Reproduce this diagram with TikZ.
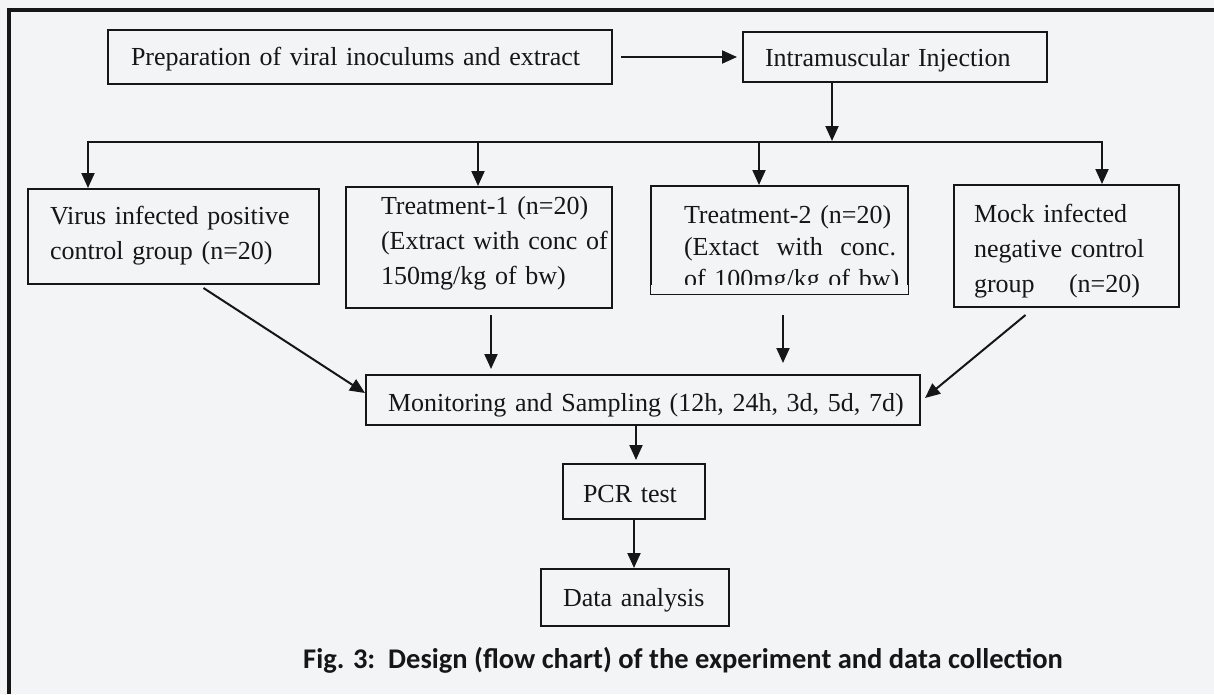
\documentclass[tikz,border=0pt]{standalone}
\usepackage{fontspec}
\setmainfont{Liberation Serif}
\newfontfamily\capfont{Carlito}
\usetikzlibrary{arrows.meta,calc}
\definecolor{ink}{HTML}{161616}
\definecolor{paper}{HTML}{F3F4F6}
% left indent of a line inside a box
\newcommand\ind[1]{\hspace*{#1pt}}
% a line spread out to a fixed width
\newcommand\spread[2]{\hbox to #1pt{#2}}
\begin{document}
\begin{tikzpicture}[x=1pt,y=-1pt,
  box/.style={draw=ink, line width=2pt, fill=paper, inner sep=0pt,
    anchor=north west, align=left, text=ink,
    font=\fontsize{26}{35}\selectfont},
  arr/.style={draw=ink, line width=2pt, -{Triangle[length=15pt,width=13pt]}},
  caption/.style={font=\capfont\bfseries\fontsize{28.5}{32}\selectfont, text=ink, anchor=base}
]
\fill[paper] (0,0) rectangle (1214,694);
\useasboundingbox (0,0) rectangle (1214,694);

% outer frame
\draw[ink, line width=3.5pt] (9,694) -- (9,10) -- (1214,10);

% boxes
\node[box, text width=504pt, text height=35pt, text depth=19pt] (prep) at (107,29)
  {\ind{23}Preparation of viral inoculums and extract};
\node[box, text width=304pt, text height=34pt, text depth=16pt] (intra) at (742,31)
  {\ind{22}Intramuscular Injection};

\node[box, text width=291pt, text height=35pt, text depth=60pt] (virus) at (27,188)
  {\ind{22}Virus infected positive\\\ind{22}control group (n=20)};
\node[box, text width=266pt, text height=27pt, text depth=94pt] (t1) at (345,186)
  {\ind{35}Treatment-1 (n=20)\\\ind{35}(Extract with conc of\\\ind{35}150mg/kg of bw)};
\node[box, text width=257pt, text height=37pt, text depth=71pt,
      font=\fontsize{26}{32}\selectfont] (t2) at (650,185)
  {\ind{33}Treatment-2 (n=20)\\\ind{33}\spread{212}{(Extact\hfill with\hfill conc.}\\\ind{33}of 100mg/kg of bw)};
\node[box, text width=225pt, text height=37pt, text depth=85pt] (mock) at (953,184)
  {\ind{20}Mock infected\\\ind{20}negative control\\\ind{20}\spread{166}{group\hfill(n=20)}};
% the lowest line of the second treatment box is cut off at its foot
\fill[paper] ($(t2.south west)+(1.2,-10)$) rectangle ($(t2.south east)+(-1.2,-1.2)$);

\node[box, text width=554pt, text height=36pt, text depth=14pt] (mon) at (365,374)
  {\ind{22}Monitoring and Sampling (12h, 24h, 3d, 5d, 7d)};
\node[box, text width=142pt, text height=38pt, text depth=17pt] (pcr) at (562,463)
  {\ind{20}PCR test};
\node[box, text width=188pt, text height=37pt, text depth=20pt] (data) at (540,568)
  {\ind{22}Data analysis};

\node[caption] (cap) at (683,668) {Fig. 3:\ \ Design (flow chart) of the experiment and data collection};

% connectors
\draw[arr, shorten <=8pt, shorten >=5pt] (prep.east) -- (intra.west);

\coordinate (bus) at (832,142);
\coordinate (d1) at (88,142);
\coordinate (d2) at (478,142);
\coordinate (d3) at (759,142);
\coordinate (d4) at (1102,142);
\draw[arr, shorten >=1pt] (intra.south -| bus) -- (bus);
\draw[arr] (bus) -| (d1 |- virus.north);
\draw[arr] (bus) -| (d4 |- mock.north);
\draw[arr] (d2) -- (d2 |- t1.north);
\draw[arr] (d3) -- (d3 |- t2.north);

\draw[arr] ($(virus.south)+(30,3)$) -- ($(mon.west)+(0,-7)$);
\draw[arr] ($(t1.south)+(12,6)$) -- ($(t1.south |- mon.north)+(12,-5)$);
\draw[arr] ($(t2.south)+(3.5,20)$) -- ($(t2.south |- mon.north)+(3.5,-11)$);
\draw[arr] ($(mock.south)+(-41,7)$) -- ($(mon.east)+(4,-2)$);

\coordinate (m1) at ($(mon.south)+(-7,0)$);
\draw[arr] (m1) -- ($(m1 |- pcr.north)+(0,-3)$);
\draw[arr] (pcr.south) -- (pcr.south |- data.north);
\end{tikzpicture}
\end{document}
